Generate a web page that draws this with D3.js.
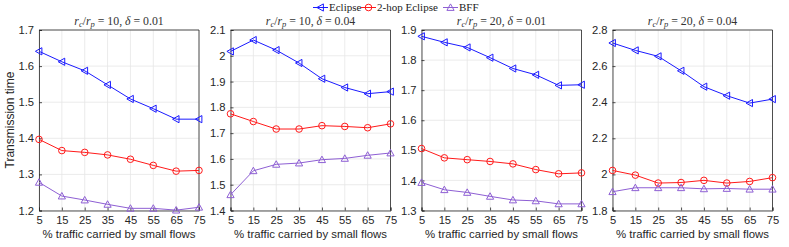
<!DOCTYPE html>
<html><head><meta charset="utf-8">
<script src="https://cdn.jsdelivr.net/npm/d3@7"></script>
<style>body{margin:0;background:#fff}svg{display:block}</style>
</head><body>
<script>
const xValues = [5, 15, 25, 35, 45, 55, 65, 75];
const seriesNames = ["Eclipse", "2-hop Eclipse", "BFF"];
const panelTitles = [["10","0.01"],["10","0.04"],["20","0.01"],["20","0.04"]];
const yDomains = [[1.2,1.7],[1.4,2.1],[1.3,1.9],[1.8,2.8]];
const yTicks = [
  [1.2,1.3,1.4,1.5,1.6,1.7],
  [1.4,1.5,1.6,1.7,1.8,1.9,2.0,2.1],
  [1.3,1.4,1.5,1.6,1.7,1.8,1.9],
  [1.8,2.0,2.2,2.4,2.6,2.8]
];
// panel 1: r_c/r_p=10, delta=0.01
const eclipse1 = [1.641,1.612,1.587,1.548,1.509,1.482,1.453,1.453];
const twohop1  = [1.397,1.366,1.361,1.354,1.342,1.325,1.309,1.311];
const bff1     = [1.278,1.240,1.229,1.217,1.206,1.206,1.201,1.209];
// panel 2: r_c/r_p=10, delta=0.04
const eclipse2 = [2.017,2.061,2.022,1.972,1.911,1.877,1.853,1.861];
const twohop2  = [1.775,1.745,1.716,1.716,1.729,1.726,1.721,1.736];
const bff2     = [1.461,1.554,1.579,1.584,1.597,1.602,1.614,1.623];
// panel 3: r_c/r_p=20, delta=0.01
const eclipse3 = [1.879,1.859,1.842,1.808,1.772,1.751,1.716,1.718];
const twohop3  = [1.506,1.475,1.469,1.463,1.455,1.436,1.422,1.425];
const bff3     = [1.393,1.369,1.360,1.347,1.335,1.332,1.322,1.322];
// panel 4: r_c/r_p=20, delta=0.04
const eclipse4 = [2.728,2.687,2.654,2.574,2.486,2.436,2.395,2.417];
const twohop4  = [2.022,1.996,1.952,1.955,1.967,1.952,1.961,1.982];
const bff4     = [1.904,1.926,1.926,1.926,1.920,1.922,1.918,1.918];

const panels = [
  [eclipse1, twohop1, bff1],
  [eclipse2, twohop2, bff2],
  [eclipse3, twohop3, bff3],
  [eclipse4, twohop4, bff4]
];
const colors = ["#1a1aff", "#ff1a1a", "#8e5fd4"];

const W = 789, H = 247;
const svg = d3.select("body").append("svg").attr("width", W).attr("height", H);
const lefts = [39, 230.5, 421.5, 612.5];
const pw = 160, plotTop = 30, plotBottom = 210.5;
const tickFont = "'Liberation Sans', Arial, sans-serif";
const serif = "'Liberation Serif', 'DejaVu Serif', serif";

function marker(g, kind, x, y, color) {
  const r = 3.6;
  if (kind === 0) {
    g.append("path").attr("d", `M${x-r},${y} L${x+r*0.8},${y-r} L${x+r*0.8},${y+r} Z`)
      .attr("fill","none").attr("stroke",color).attr("stroke-width",1);
  } else if (kind === 1) {
    g.append("circle").attr("cx",x).attr("cy",y).attr("r",3.3)
      .attr("fill","none").attr("stroke",color).attr("stroke-width",1);
  } else {
    g.append("path").attr("d", `M${x},${y-r} L${x+r},${y+r*0.8} L${x-r},${y+r*0.8} Z`)
      .attr("fill","none").attr("stroke",color).attr("stroke-width",1);
  }
}

panels.forEach((data, pi) => {
  const x0 = lefts[pi];
  const x = d3.scaleLinear().domain([5,75]).range([x0, x0+pw]);
  const y = d3.scaleLinear().domain(yDomains[pi]).range([plotBottom, plotTop]);
  const g = svg.append("g");
  g.append("rect").attr("x",x0).attr("y",plotTop).attr("width",pw).attr("height",plotBottom-plotTop).attr("fill","#fff");
  // grid
  g.selectAll(".gx").data(xValues).enter().append("line")
    .attr("x1",d=>x(d)).attr("x2",d=>x(d)).attr("y1",plotTop).attr("y2",plotBottom)
    .attr("stroke","#e6e6e6").attr("stroke-width",0.8);
  g.selectAll(".gy").data(yTicks[pi]).enter().append("line")
    .attr("y1",d=>y(d)).attr("y2",d=>y(d)).attr("x1",x0).attr("x2",x0+pw)
    .attr("stroke","#e6e6e6").attr("stroke-width",0.8);
  // axes
  const xa = g.append("g").attr("transform",`translate(0,${plotBottom})`)
    .call(d3.axisBottom(x).tickValues(xValues).tickSize(-3).tickPadding(6).tickFormat(d3.format("d")));
  const ya = g.append("g").attr("transform",`translate(${x0},0)`)
    .call(d3.axisLeft(y).tickValues(yTicks[pi]).tickSize(-3).tickPadding(5).tickFormat(d=>d3.format("~g")(+d.toFixed(2))));
  [xa, ya].forEach(a => {
    a.select(".domain").attr("stroke","#262626").attr("stroke-width",0.8);
    a.selectAll(".tick line").attr("stroke","#262626").attr("stroke-width",0.8);
    a.selectAll("text").attr("font-family",tickFont).attr("font-size","11.2px").attr("fill","#262626");
  });
  // top and right borders
  g.append("line").attr("x1",x0).attr("x2",x0+pw).attr("y1",plotTop).attr("y2",plotTop).attr("stroke","#262626").attr("stroke-width",0.8);
  g.append("line").attr("x1",x0+pw).attr("x2",x0+pw).attr("y1",plotTop).attr("y2",plotBottom).attr("stroke","#262626").attr("stroke-width",0.8);
  // series
  data.forEach((vals, si) => {
    const line = d3.line().x((d,i)=>x(xValues[i])).y(d=>y(d));
    g.append("path").datum(vals).attr("d",line).attr("fill","none")
      .attr("stroke",colors[si]).attr("stroke-width",1);
    vals.forEach((v,i)=> marker(g, si, x(xValues[i]), y(v), colors[si]));
  });
  // x label
  g.append("text").attr("x",x0+pw/2).attr("y",238).attr("text-anchor","middle")
    .attr("font-family",tickFont).attr("font-size","11.4px").attr("fill","#262626")
    .text("% traffic carried by small flows");
  // title
  const t = g.append("text").attr("x",x0+pw/2).attr("y",24.5).attr("text-anchor","middle")
    .attr("font-family",serif).attr("font-size","11.8px").attr("fill","#333");
  t.append("tspan").attr("font-style","italic").text("r");
  t.append("tspan").attr("font-style","italic").attr("font-size","8.5px").attr("dy",2.5).text("c");
  t.append("tspan").attr("dy",-2.5).text("/");
  t.append("tspan").attr("font-style","italic").text("r");
  t.append("tspan").attr("font-style","italic").attr("font-size","8.5px").attr("dy",2.5).text("p");
  t.append("tspan").attr("dy",-2.5).text(" = " + panelTitles[pi][0] + ", ");
  t.append("tspan").attr("font-style","italic").text("δ");
  t.append("tspan").text(" = " + panelTitles[pi][1]);
});

// y label
svg.append("text").attr("transform","translate(14,120) rotate(-90)").attr("text-anchor","middle")
  .attr("font-family",tickFont).attr("font-size","12px").attr("fill","#262626").text("Transmission time");

// legend
const legendX = [313, 361, 443];
const lg = svg.append("g");
seriesNames.forEach((name, i) => {
  const lx = legendX[i], ly = 7.5;
  lg.append("line").attr("x1",lx).attr("x2",lx+15).attr("y1",ly).attr("y2",ly).attr("stroke",colors[i]).attr("stroke-width",1);
  marker(lg, i, lx+7.5, ly, colors[i]);
  lg.append("text").attr("x",lx+16).attr("y",ly+3.5).attr("font-family",serif).attr("font-size","11px")
    .attr("fill","#222").text(name);
});
</script>
</body></html>
